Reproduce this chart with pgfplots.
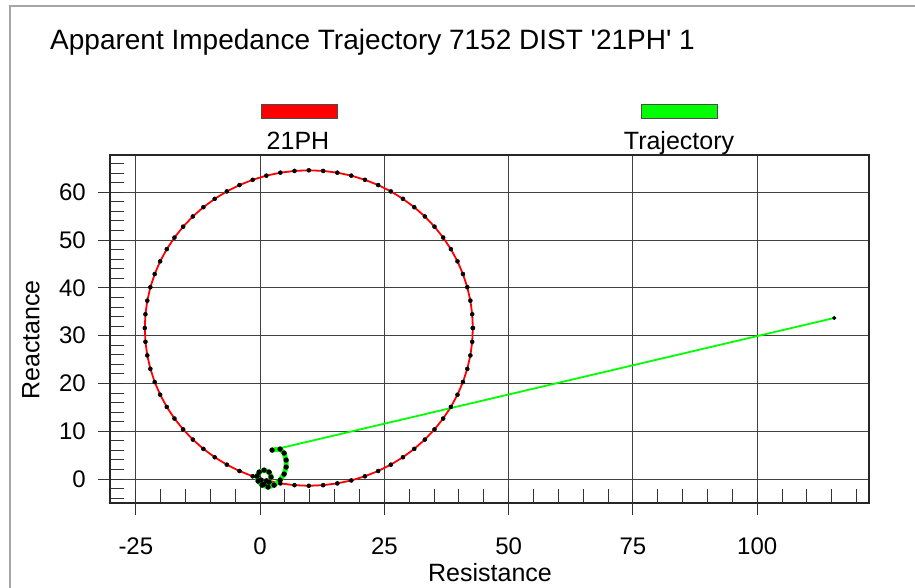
\documentclass[border=0pt]{standalone}
\usepackage{pgfplots}
\pgfplotsset{compat=1.18}
\usepackage{fontspec}
\setmainfont{Liberation Sans}
\definecolor{pgreen}{RGB}{0,255,0}
\definecolor{pred}{RGB}{255,0,0}
\begin{document}
\begin{tikzpicture}[x=1bp,y=1bp]
% outer frame
\draw[black!35, line width=1.5bp] (10,-30) -- (10,582) -- (950,582);
% title
\node[anchor=base west, inner sep=0pt, font=\fontsize{28bp}{32bp}\selectfont] at (50,538) {Apparent Impedance Trajectory 7152 DIST \textquotesingle 21PH\textquotesingle\ 1};
% legend
\draw[fill=pred, draw=black!70, line width=0.8bp] (261,470) rectangle (337,484);
\node[anchor=base, inner sep=0pt, font=\fontsize{25bp}{30bp}\selectfont] at (298,438) {21PH};
\draw[fill=pgreen, draw=black!70, line width=0.8bp] (641,470) rectangle (717,484);
\node[anchor=base, inner sep=0pt, font=\fontsize{25bp}{30bp}\selectfont] at (679,438) {Trajectory};
% axis labels
\node[inner sep=0pt, font=\fontsize{25bp}{30bp}\selectfont] at (490,15) {Resistance};
\node[inner sep=0pt, rotate=90, font=\fontsize{25bp}{30bp}\selectfont] at (31,248) {Reactance};
\begin{axis}[
  at={(110bp,85bp)}, anchor=south west,
  scale only axis, width=759bp, height=348bp,
  xmin=-30.2, xmax=122.5, ymin=-5, ymax=67.8,
  xtick={-25,0,25,50,75,100},
  ytick={0,10,20,30,40,50,60},
  minor xtick={-30,-25,...,120},
  minor ytick={-4,-2,...,66},
  xtick pos=bottom, ytick pos=left,
  tick align=inside,
  major tick length=14bp,
  minor tick length=14bp,
  tick style={black!80, line width=1bp},
  extra x ticks={-25,0,25,50,75,100},
  extra y ticks={0,10,20,30,40,50,60},
  extra x tick labels={},
  extra y tick labels={},
  extra tick style={tick align=outside, major tick length=12bp, grid=none},
  grid=major,
  major grid style={black!75, line width=1bp},
  axis line style={black!85, line width=1.2bp},
  /pgf/number format/assume math mode=true,
  ticklabel style={font=\fontsize{24bp}{28bp}\selectfont},
  xticklabel style={anchor=center, inner sep=0pt, yshift=-43bp},
  yticklabel style={anchor=east, inner sep=0pt, xshift=-24bp},
  clip=false,
]
% mho circle
\addplot[pred, line width=1.8bp, mark=*, mark size=2bp, mark options={draw=black, fill=black, line width=0.5bp}] coordinates {
(42.80,31.60) (42.67,34.48) (42.30,37.33) (41.68,40.14) (40.81,42.89) (39.71,45.55)
(38.38,48.10) (36.83,50.53) (35.08,52.81) (33.14,54.94) (31.01,56.88) (28.73,58.63)
(26.30,60.18) (23.75,61.51) (21.09,62.61) (18.34,63.48) (15.53,64.10) (12.68,64.47)
(9.80,64.60) (6.92,64.47) (4.07,64.10) (1.26,63.48) (-1.49,62.61) (-4.15,61.51)
(-6.70,60.18) (-9.13,58.63) (-11.41,56.88) (-13.54,54.94) (-15.48,52.81) (-17.23,50.53)
(-18.78,48.10) (-20.11,45.55) (-21.21,42.89) (-22.08,40.14) (-22.70,37.33) (-23.07,34.48)
(-23.20,31.60) (-23.07,28.72) (-22.70,25.87) (-22.08,23.06) (-21.21,20.31) (-20.11,17.65)
(-18.78,15.10) (-17.23,12.67) (-15.48,10.39) (-13.54,8.27) (-11.41,6.32) (-9.13,4.57)
(-6.70,3.02) (-4.15,1.69) (-1.49,0.59) (1.26,-0.28) (4.07,-0.90) (6.92,-1.27)
(9.80,-1.40) (12.68,-1.27) (15.53,-0.90) (18.34,-0.28) (21.09,0.59) (23.75,1.69)
(26.30,3.02) (28.73,4.57) (31.01,6.32) (33.14,8.27) (35.08,10.39) (36.83,12.67)
(38.38,15.10) (39.71,17.65) (40.81,20.31) (41.68,23.06) (42.30,25.87) (42.67,28.72)
(42.80,31.60)
};
% trajectory: jump from load point into the fault
\addplot[pgreen, line width=1.8bp] coordinates {(115.5,33.7) (2.41,6.07)};
% trajectory: fault spiral
\addplot[pgreen, line width=4.8bp, line join=round, line cap=round, mark=*, mark size=0.3bp, mark options={draw=black, fill=black}] coordinates {
(2.41,6.07) (4.02,6.28) (4.83,5.44) (5.23,3.97) (5.23,2.51) (4.83,1.05)
(4.02,-0.21) (2.82,-1.26) (1.61,-1.67) (0.40,-1.26) (-0.40,-0.42) (-0.60,0.63)
(-0.20,1.46) (0.80,1.88) (1.81,1.46) (2.21,0.42) (1.81,-0.63) (0.80,-1.05) (0.20,-0.21)
};
\addplot[only marks, mark=*, mark size=1.8bp, black] coordinates {(115.5,33.7)};
\end{axis}
\pgfresetboundingbox
\useasboundingbox (0,0) rectangle (915,588);
\end{tikzpicture}
\end{document}
